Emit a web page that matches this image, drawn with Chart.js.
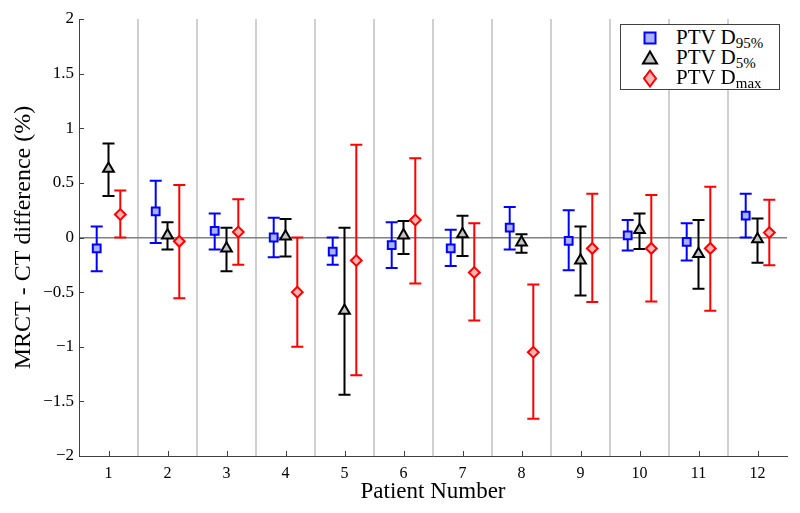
<!DOCTYPE html>
<html>
<head>
<meta charset="utf-8">
<script src="https://cdn.jsdelivr.net/npm/chart.js@4.4.1/dist/chart.umd.min.js"></script>
<style>
html,body{margin:0;padding:0;background:#fff;}
#wrap{position:relative;width:800px;height:513px;}
#legend{position:absolute;left:620px;top:24px;width:160px;height:66px;border:1px solid #404040;background:#fff;box-sizing:border-box;font-family:"Liberation Serif",serif;font-size:21px;color:#000;}
.row{position:absolute;left:0;width:100%;height:20px;}
.row svg{position:absolute;left:19px;top:0;}
.row span{position:absolute;left:55px;top:-1px;line-height:20px;white-space:nowrap;}
.row sub{font-size:15px;vertical-align:-4px;line-height:0;}
</style>
</head>
<body>
<div id="wrap">
<canvas id="c" width="800" height="513"></canvas>
<div id="legend">
  <div class="row" style="top:3px">
    <svg width="20" height="20"><rect x="4.5" y="4.5" width="11" height="11" fill="#aab2ff" stroke="#0000ff" stroke-width="2"/></svg>
    <span>PTV D<sub>95%</sub></span>
  </div>
  <div class="row" style="top:23px">
    <svg width="20" height="20"><polygon points="10,3.5 17,15.5 3,15.5" fill="#c4c4c4" stroke="#000" stroke-width="2"/></svg>
    <span>PTV D<sub>5%</sub></span>
  </div>
  <div class="row" style="top:43px">
    <svg width="20" height="20"><polygon points="10,2.5 16,10.5 10,18.5 4,10.5" fill="#ffb4b4" stroke="#ff0000" stroke-width="2"/></svg>
    <span>PTV D<sub>max</sub></span>
  </div>
</div>
</div>
<script>
// ---- data ----
const patients = ['1','2','3','4','5','6','7','8','9','10','11','12'];
const yTicks = [-2, -1.5, -1, -0.5, 0, 0.5, 1, 1.5, 2];

const d95Mean = [-0.10, 0.24, 0.06, 0.00, -0.13, -0.07, -0.10, 0.09, -0.03, 0.02, -0.04, 0.20];
const d95Low  = [-0.31, -0.05, -0.11, -0.18, -0.25, -0.28, -0.26, -0.11, -0.30, -0.12, -0.21, 0.00];
const d95High = [0.10, 0.52, 0.22, 0.18, 0.00, 0.14, 0.07, 0.28, 0.25, 0.16, 0.13, 0.40];

const d5Mean = [0.63, 0.02, -0.10, 0.01, -0.67, 0.02, 0.03, -0.045, -0.21, 0.07, -0.15, -0.015];
const d5Low  = [0.38, -0.11, -0.31, -0.175, -1.44, -0.15, -0.17, -0.14, -0.53, -0.105, -0.47, -0.23];
const d5High = [0.86, 0.14, 0.09, 0.17, 0.09, 0.15, 0.20, 0.03, 0.10, 0.22, 0.16, 0.175];

const dmaxMean = [0.21, -0.035, 0.05, -0.50, -0.21, 0.16, -0.32, -1.05, -0.10, -0.10, -0.10, 0.045];
const dmaxLow  = [0.00, -0.555, -0.25, -1.00, -1.26, -0.42, -0.76, -1.66, -0.59, -0.585, -0.67, -0.255];
const dmaxHigh = [0.43, 0.48, 0.35, 0.00, 0.85, 0.725, 0.13, -0.43, 0.40, 0.39, 0.465, 0.345];

// ---- layout / style ----
const SERIF = '"Liberation Serif", "Times New Roman", serif';
const OFFSET = 0.2;
function pts(means, off) { return means.map((v, i) => ({ x: i + 1 + off, y: v })); }
function fmt(v) { return (v < 0 ? '\u2212' : '') + Math.abs(v); }

const errorBars = {
  id: 'errorBars',
  beforeDatasetsDraw(chart) {
    const ctx = chart.ctx, ys = chart.scales.y;
    chart.data.datasets.forEach((ds, di) => {
      const meta = chart.getDatasetMeta(di);
      ctx.save();
      ctx.strokeStyle = ds.borderColor;
      ctx.lineWidth = 2;
      ctx.beginPath();
      meta.data.forEach((pt, i) => {
        const x = pt.x;
        const yl = ys.getPixelForValue(ds.errLow[i]);
        const yh = ys.getPixelForValue(ds.errHigh[i]);
        ctx.moveTo(x, yl); ctx.lineTo(x, yh);
        ctx.moveTo(x - 6, yl); ctx.lineTo(x + 6, yl);
        ctx.moveTo(x - 6, yh); ctx.lineTo(x + 6, yh);
      });
      ctx.stroke();
      ctx.restore();
    });
  }
};

const innerTicks = {
  id: 'innerTicks',
  beforeDatasetsDraw(chart) {
    const ctx = chart.ctx, a = chart.chartArea, xc = chart.scales.xc, ys = chart.scales.y;
    ctx.save();
    ctx.strokeStyle = '#404040';
    ctx.lineWidth = 1;
    ctx.beginPath();
    xc.ticks.forEach((t, i) => {
      const px = Math.round(xc.getPixelForTick(i)) + 0.5;
      ctx.moveTo(px, a.bottom); ctx.lineTo(px, a.bottom - 5);
    });
    ys.ticks.forEach((t, i) => {
      const py = Math.round(ys.getPixelForTick(i)) + 0.5;
      ctx.moveTo(a.left, py); ctx.lineTo(a.left + 5, py);
    });
    ctx.stroke();
    ctx.restore();
  }
};

new Chart(document.getElementById('c'), {
  type: 'scatter',
  data: {
    datasets: [
      { label: 'PTV D95%', data: pts(d95Mean, -OFFSET), errLow: d95Low, errHigh: d95High,
        pointStyle: 'rect', pointRadius: 5.5, pointHoverRadius: 5.5,
        backgroundColor: '#aab2ff', borderColor: '#0000ff', borderWidth: 2, xAxisID: 'x', yAxisID: 'y' },
      { label: 'PTV D5%', data: pts(d5Mean, 0), errLow: d5Low, errHigh: d5High,
        pointStyle: 'triangle', pointRadius: 6.2, pointHoverRadius: 6.2,
        backgroundColor: '#c4c4c4', borderColor: '#000000', borderWidth: 2, xAxisID: 'x', yAxisID: 'y' },
      { label: 'PTV Dmax', data: pts(dmaxMean, OFFSET), errLow: dmaxLow, errHigh: dmaxHigh,
        pointStyle: 'rectRot', pointRadius: 5.4, pointHoverRadius: 5.4,
        backgroundColor: '#ffb4b4', borderColor: '#ff0000', borderWidth: 2, xAxisID: 'x', yAxisID: 'y' }
    ]
  },
  options: {
    responsive: false,
    animation: false,
    events: [],
    layout: { padding: { top: 19, right: 13, left: 0, bottom: 0 } },
    plugins: { legend: { display: false }, tooltip: { enabled: false } },
    scales: {
      x: { type: 'linear', min: 0.5, max: 12.5, display: false },
      xc: {
        type: 'category', labels: patients, position: 'bottom', offset: true,
        grid: { offset: true, drawTicks: false, lineWidth: 2,
                color: c => (c.type !== 'tick' || c.index === 0) ? 'rgba(0,0,0,0)' : '#d0d0d0' },
        border: { display: true, color: '#404040', width: 1 },
        ticks: { font: { family: SERIF, size: 16 }, color: '#000', padding: 8, maxRotation: 0, autoSkip: false },
        title: { display: true, text: 'Patient Number', color: '#000',
                 font: { family: SERIF, size: 23 }, padding: { top: 0, bottom: 7 } },
        afterFit(s) { s.height = 57; }
      },
      y: {
        type: 'linear', min: -2, max: 2,
        afterBuildTicks(s) { s.ticks = yTicks.map(v => ({ value: v })); },
        ticks: { font: { family: SERIF, size: 17 }, color: '#000', padding: 5, callback: v => fmt(v) },
        grid: { drawTicks: false, lineWidth: 1.5,
                color: c => (c.tick && c.tick.value === 0) ? '#808080' : 'rgba(0,0,0,0)' },
        border: { display: true, color: '#404040', width: 1 },
        title: { display: true, text: 'MRCT - CT difference (%)', color: '#000',
                 font: { family: SERIF, size: 24 }, padding: { top: 9, bottom: 0 } },
        afterFit(s) { s.width = 79; }
      }
    }
  },
  plugins: [errorBars, innerTicks]
});
</script>
</body>
</html>
